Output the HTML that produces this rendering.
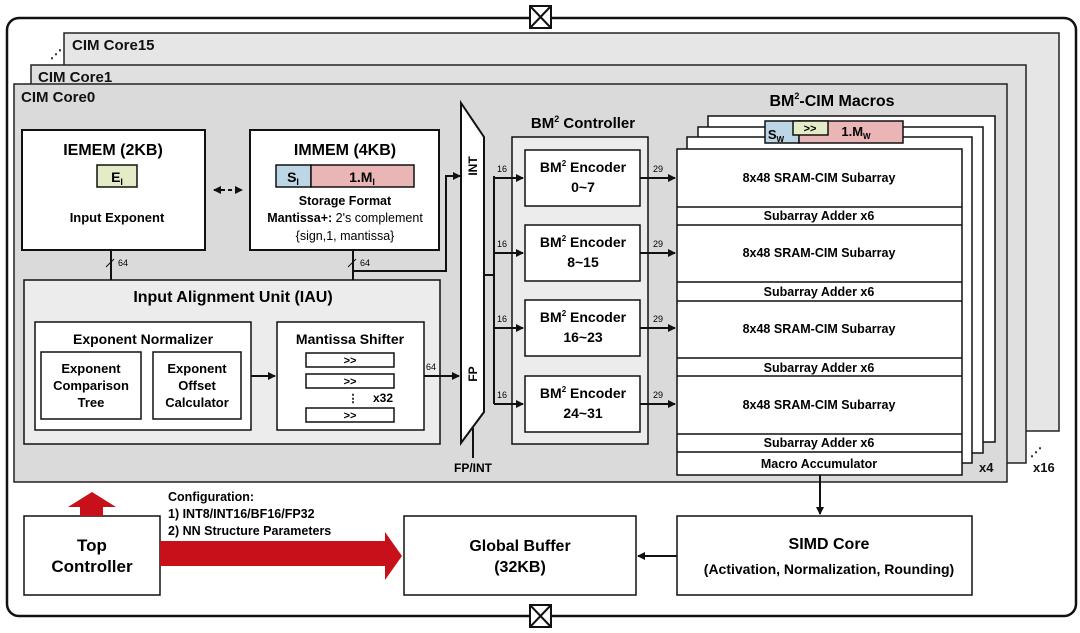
<!DOCTYPE html>
<html><head><meta charset="utf-8"><style>
html,body{margin:0;padding:0;background:#fff;}
svg{display:block;font-family:"Liberation Sans",Arial,sans-serif;font-weight:bold;}
</style></head><body>
<svg width="1080" height="633" viewBox="0 0 1080 633" xmlns="http://www.w3.org/2000/svg">
<defs>
<marker id="a" markerWidth="8" markerHeight="8" refX="7" refY="4" orient="auto" markerUnits="userSpaceOnUse"><path d="M0,0 L8,4 L0,8 Z" fill="#111"/></marker>
<marker id="as" markerWidth="8" markerHeight="8" refX="1" refY="4" orient="auto" markerUnits="userSpaceOnUse"><path d="M8,0 L0,4 L8,8 Z" fill="#111"/></marker>
</defs>
<rect x="7" y="18" width="1069" height="598" rx="12" fill="#fff" stroke="#111" stroke-width="2.5"/>
<!-- cross boxes -->
<g stroke="#111" stroke-width="2" fill="#fff">
<rect x="530" y="6" width="21" height="22"/><path d="M530,6 L551,28 M551,6 L530,28"/>
<rect x="530" y="605" width="21" height="22"/><path d="M530,605 L551,627 M551,605 L530,627"/>
</g>
<!-- cores -->
<rect x="64" y="33" width="995" height="398" fill="#e6e6e6" stroke="#222" stroke-width="1.5"/>
<rect x="31" y="65" width="995" height="398" fill="#e0e0e0" stroke="#222" stroke-width="1.5"/>
<rect x="14" y="84" width="993" height="398" fill="#dadada" stroke="#222" stroke-width="1.5"/>
<text x="72" y="50" font-size="15" fill="#111">CIM Core15</text>
<text x="38" y="82" font-size="15" fill="#111">CIM Core1</text>
<text x="21" y="102" font-size="15" fill="#111">CIM Core0</text>
<text x="50" y="58" font-size="12" fill="#111">⋰</text>
<text x="1030" y="456" font-size="12" fill="#111">⋰</text>
<text x="1033" y="472" font-size="13" fill="#111">x16</text>
<text x="979" y="472" font-size="13" fill="#111">x4</text>

<!-- IEMEM -->
<rect x="22" y="130" width="183" height="120" fill="#fff" stroke="#111" stroke-width="2"/>
<text x="113" y="155" font-size="16" text-anchor="middle">IEMEM (2KB)</text>
<rect x="97" y="165" width="40" height="22" fill="#e3ecc6" stroke="#111" stroke-width="1.5"/>
<text x="117" y="182" font-size="14" text-anchor="middle">E<tspan font-size="9" dy="3">I</tspan></text>
<text x="117" y="222" font-size="13" text-anchor="middle">Input Exponent</text>
<!-- IMMEM -->
<rect x="250" y="130" width="189" height="120" fill="#fff" stroke="#111" stroke-width="2"/>
<text x="345" y="155" font-size="16" text-anchor="middle">IMMEM (4KB)</text>
<rect x="276" y="165" width="35" height="22" fill="#bdd6e6" stroke="#111" stroke-width="1.5"/>
<rect x="311" y="165" width="103" height="22" fill="#e9b5b5" stroke="#111" stroke-width="1.5"/>
<text x="293" y="182" font-size="14" text-anchor="middle">S<tspan font-size="9" dy="3">I</tspan></text>
<text x="362" y="182" font-size="14" text-anchor="middle">1.M<tspan font-size="9" dy="3">I</tspan></text>
<text x="345" y="205" font-size="12.5" text-anchor="middle">Storage Format</text>
<text x="345" y="222" font-size="12.5" text-anchor="middle">Mantissa+:<tspan font-weight="normal"> 2's complement</tspan></text>
<text x="345" y="240" font-size="12.5" text-anchor="middle" font-weight="normal">{sign,1, mantissa}</text>
<line x1="214" y1="190" x2="242" y2="190" stroke="#111" stroke-width="2" stroke-dasharray="4,3" marker-end="url(#a)" marker-start="url(#as)"/>

<!-- arrows down -->
<line x1="111" y1="250" x2="111" y2="320" stroke="#111" stroke-width="2" marker-end="url(#a)"/>
<line x1="106" y1="267" x2="114" y2="259" stroke="#111" stroke-width="1"/>
<text x="118" y="266" font-size="9" font-weight="normal">64</text>
<line x1="353" y1="250" x2="353" y2="320" stroke="#111" stroke-width="2" marker-end="url(#a)"/>
<line x1="348" y1="267" x2="356" y2="259" stroke="#111" stroke-width="1"/>
<text x="360" y="266" font-size="9" font-weight="normal">64</text>
<polyline points="353,271 446,271 446,176 460,176" fill="none" stroke="#111" stroke-width="2" marker-end="url(#a)"/>

<!-- IAU -->
<rect x="24" y="280" width="416" height="164" fill="#ececec" stroke="#111" stroke-width="1.5"/>
<text x="233" y="302" font-size="16" text-anchor="middle">Input Alignment Unit (IAU)</text>
<rect x="35" y="322" width="216" height="108" fill="#fff" stroke="#111" stroke-width="1.5"/>
<text x="143" y="344" font-size="14" text-anchor="middle">Exponent Normalizer</text>
<rect x="41" y="352" width="100" height="67" fill="#fff" stroke="#111" stroke-width="1.5"/>
<rect x="153" y="352" width="88" height="67" fill="#fff" stroke="#111" stroke-width="1.5"/>
<g font-size="13" text-anchor="middle">
<text x="91" y="373">Exponent</text><text x="91" y="390">Comparison</text><text x="91" y="407">Tree</text>
<text x="197" y="373">Exponent</text><text x="197" y="390">Offset</text><text x="197" y="407">Calculator</text>
</g>
<line x1="251" y1="376" x2="275" y2="376" stroke="#111" stroke-width="2" marker-end="url(#a)"/>
<rect x="277" y="322" width="147" height="108" fill="#fff" stroke="#111" stroke-width="1.5"/>
<text x="350" y="344" font-size="14" text-anchor="middle">Mantissa Shifter</text>
<g fill="#fff" stroke="#111" stroke-width="1.5">
<rect x="306" y="353" width="88" height="14"/><rect x="306" y="374" width="88" height="14"/><rect x="306" y="408" width="88" height="14"/>
</g>
<g font-size="11" text-anchor="middle"><text x="350" y="364">&gt;&gt;</text><text x="350" y="385">&gt;&gt;</text><text x="350" y="419">&gt;&gt;</text></g>
<text x="353" y="402" font-size="11" text-anchor="middle">⋮</text>
<text x="383" y="402" font-size="12" text-anchor="middle">x32</text>
<line x1="424" y1="376" x2="459" y2="376" stroke="#111" stroke-width="2" marker-end="url(#a)"/>
<text x="426" y="370" font-size="9" font-weight="normal">64</text>

<!-- MUX -->
<polygon points="461,103 484,137 484,412 461,443" fill="#fff" stroke="#111" stroke-width="2"/>
<line x1="473" y1="428" x2="473" y2="458" stroke="#111" stroke-width="2"/>
<text x="473" y="472" font-size="12" text-anchor="middle">FP/INT</text>
<text transform="translate(477,166) rotate(-90)" font-size="12" text-anchor="middle">INT</text>
<text transform="translate(477,374) rotate(-90)" font-size="12" text-anchor="middle">FP</text>
<line x1="484" y1="275" x2="494" y2="275" stroke="#111" stroke-width="2"/>
<line x1="494" y1="176" x2="494" y2="404" stroke="#111" stroke-width="2"/>

<!-- BM2 controller -->
<text x="583" y="128" font-size="15" text-anchor="middle">BM<tspan font-size="9" dy="-6">2</tspan><tspan dy="6"> Controller</tspan></text>
<rect x="512" y="137" width="136" height="307" fill="#ececec" stroke="#111" stroke-width="1.5"/>
<g font-size="14" text-anchor="middle">
<rect x="525" y="150" width="115" height="56" fill="#fff" stroke="#111" stroke-width="1.5"/>
<text x="583" y="172">BM<tspan font-size="8" dy="-6">2</tspan><tspan dy="6"> Encoder</tspan></text><text x="583" y="192">0~7</text>
<rect x="525" y="225" width="115" height="56" fill="#fff" stroke="#111" stroke-width="1.5"/>
<text x="583" y="247">BM<tspan font-size="8" dy="-6">2</tspan><tspan dy="6"> Encoder</tspan></text><text x="583" y="267">8~15</text>
<rect x="525" y="300" width="115" height="56" fill="#fff" stroke="#111" stroke-width="1.5"/>
<text x="583" y="322">BM<tspan font-size="8" dy="-6">2</tspan><tspan dy="6"> Encoder</tspan></text><text x="583" y="342">16~23</text>
<rect x="525" y="376" width="115" height="56" fill="#fff" stroke="#111" stroke-width="1.5"/>
<text x="583" y="398">BM<tspan font-size="8" dy="-6">2</tspan><tspan dy="6"> Encoder</tspan></text><text x="583" y="418">24~31</text>
</g>
<g stroke="#111" stroke-width="2">
<line x1="494" y1="178" x2="523" y2="178" marker-end="url(#a)"/>
<line x1="494" y1="253" x2="523" y2="253" marker-end="url(#a)"/>
<line x1="494" y1="328" x2="523" y2="328" marker-end="url(#a)"/>
<line x1="494" y1="404" x2="523" y2="404" marker-end="url(#a)"/>
<line x1="640" y1="178" x2="675" y2="178" marker-end="url(#a)"/>
<line x1="640" y1="253" x2="675" y2="253" marker-end="url(#a)"/>
<line x1="640" y1="328" x2="675" y2="328" marker-end="url(#a)"/>
<line x1="640" y1="404" x2="675" y2="404" marker-end="url(#a)"/>
</g>
<g font-size="9" font-weight="normal">
<text x="497" y="172">16</text><text x="497" y="247">16</text><text x="497" y="322">16</text><text x="497" y="398">16</text>
<text x="653" y="172">29</text><text x="653" y="247">29</text><text x="653" y="322">29</text><text x="653" y="398">29</text>
</g>

<!-- Macros -->
<text x="832" y="106" font-size="16" text-anchor="middle">BM<tspan font-size="9" dy="-7">2</tspan><tspan dy="7">-CIM Macros</tspan></text>
<g fill="#fff" stroke="#111" stroke-width="1.5">
<rect x="708" y="116" width="287" height="326"/>
<rect x="698" y="127" width="285" height="326"/>
<rect x="687" y="137" width="285" height="326"/>
</g>
<rect x="765" y="121" width="34" height="22" fill="#bdd6e6" stroke="#111" stroke-width="1.5"/>
<rect x="799" y="121" width="104" height="22" fill="#e9b5b5" stroke="#111" stroke-width="1.5"/>
<rect x="793" y="121" width="35" height="14" fill="#e3ecc6" stroke="#111" stroke-width="1.5"/>
<text x="776" y="139" font-size="13" text-anchor="middle">S<tspan font-size="8" dy="3">W</tspan></text>
<text x="810" y="132" font-size="11" text-anchor="middle">&gt;&gt;</text>
<text x="856" y="136" font-size="13" text-anchor="middle">1.M<tspan font-size="8" dy="3">W</tspan></text>
<rect x="677" y="149" width="285" height="326" fill="#fff" stroke="#111" stroke-width="1.5"/>
<g stroke="#111" stroke-width="1.5">
<line x1="677" y1="207" x2="962" y2="207"/><line x1="677" y1="225" x2="962" y2="225"/>
<line x1="677" y1="282" x2="962" y2="282"/><line x1="677" y1="301" x2="962" y2="301"/>
<line x1="677" y1="358" x2="962" y2="358"/><line x1="677" y1="376" x2="962" y2="376"/>
<line x1="677" y1="434" x2="962" y2="434"/><line x1="677" y1="452" x2="962" y2="452"/>
</g>
<g font-size="12.5" text-anchor="middle">
<text x="819" y="182">8x48 SRAM-CIM Subarray</text><text x="819" y="220">Subarray Adder x6</text>
<text x="819" y="257">8x48 SRAM-CIM Subarray</text><text x="819" y="296">Subarray Adder x6</text>
<text x="819" y="333">8x48 SRAM-CIM Subarray</text><text x="819" y="372">Subarray Adder x6</text>
<text x="819" y="409">8x48 SRAM-CIM Subarray</text><text x="819" y="447">Subarray Adder x6</text>
<text x="819" y="468">Macro Accumulator</text>
</g>
<line x1="820" y1="475" x2="820" y2="514" stroke="#111" stroke-width="2" marker-end="url(#a)"/>

<!-- bottom -->
<rect x="677" y="516" width="295" height="79" fill="#fff" stroke="#111" stroke-width="1.5"/>
<text x="829" y="549" font-size="16" text-anchor="middle">SIMD Core</text>
<text x="829" y="574" font-size="14" text-anchor="middle">(Activation, Normalization, Rounding)</text>
<line x1="677" y1="556" x2="638" y2="556" stroke="#111" stroke-width="2" marker-end="url(#a)"/>
<rect x="404" y="516" width="232" height="79" fill="#fff" stroke="#111" stroke-width="1.5"/>
<text x="520" y="551" font-size="16" text-anchor="middle">Global Buffer</text>
<text x="520" y="572" font-size="16" text-anchor="middle">(32KB)</text>
<rect x="24" y="516" width="136" height="79" fill="#fff" stroke="#111" stroke-width="1.5"/>
<text x="92" y="551" font-size="17" text-anchor="middle">Top</text>
<text x="92" y="572" font-size="17" text-anchor="middle">Controller</text>
<polygon points="80,516 80,507 68,507 92,492 116,507 103,507 103,516" fill="#c8101a"/>
<polygon points="160,541 385,541 385,532 402,556 385,580 385,566 160,566" fill="#c8101a"/>
<text x="168" y="501" font-size="12.5">Configuration:</text>
<text x="168" y="518" font-size="12.5">1) INT8/INT16/BF16/FP32</text>
<text x="168" y="535" font-size="12.5">2) NN Structure Parameters</text>
</svg>
</body></html>
